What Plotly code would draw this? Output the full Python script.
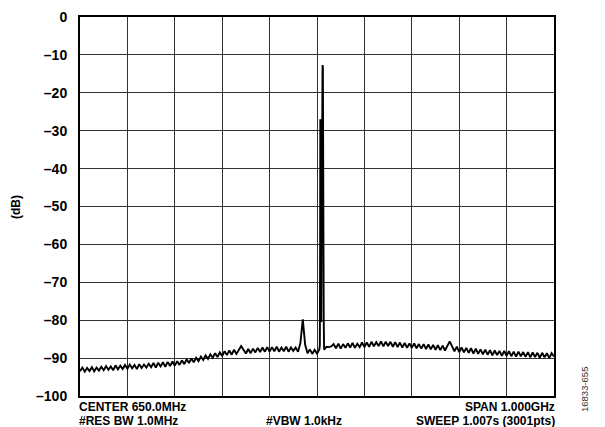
import plotly.graph_objects as go

# Spectrum analyzer sweep: 150 MHz .. 1150 MHz (center 650 MHz, span 1 GHz)
F_START_MHZ = 150
F_STEP_MHZ = 5

# Noise floor read at 5 MHz steps (dB)
floor_db = [
    -93.5, -92.5, -93.6, -92.6, -93.4, -92.4, -93.5, -92.5, -93.3, -92.3,
    -93.2, -92.1, -93.1, -92.2, -93.2, -91.9, -93.0, -92.0, -92.9, -91.8,
    -92.8, -91.7, -92.7, -91.8, -92.9, -91.6, -92.6, -91.7, -92.5, -91.5,
    -92.4, -91.3, -92.5, -91.2, -92.2, -91.1, -92.3, -91.0, -92.1, -90.9,
    -92.0, -90.8, -91.8, -90.6, -91.6, -90.3, -91.3, -90.1, -91.1, -89.9,
    -90.8, -89.6, -90.5, -89.3, -90.2, -89.0, -89.9, -88.7, -89.7, -88.5,
    -89.4, -88.2, -89.2, -88.0, -89.1, -87.8, -88.9, -87.7, -86.8, -87.8,
    -88.8, -87.6, -88.7, -87.5, -88.5, -87.3, -88.4, -87.2, -88.3, -87.1,
    -88.3, -87.1, -88.2, -87.0, -88.3, -87.2, -88.2, -87.0, -88.3, -87.2,
    -88.1, -87.2, -88.3, -86.0, -79.8, -86.5, -88.7, -87.7, -88.9, -87.8,
    -88.8, -87.7, -88.0, -87.8, -87.0, -87.1, -86.9, -86.3, -87.4, -86.2,
    -87.5, -86.3, -87.3, -86.1, -87.2, -86.0, -87.3, -86.2, -87.1, -85.9,
    -87.1, -85.9, -87.0, -85.7, -86.9, -85.8, -86.8, -85.6, -86.9, -85.7,
    -86.8, -85.7, -87.0, -85.8, -87.1, -85.9, -87.2, -86.0, -87.3, -86.1,
    -87.3, -86.1, -87.4, -86.3, -87.5, -86.3, -87.6, -86.4, -87.7, -86.5,
    -87.8, -86.6, -87.9, -86.7, -88.0, -86.8, -85.6, -86.9, -88.2, -87.0,
    -88.4, -87.2, -88.5, -87.3, -88.6, -87.4, -88.8, -87.5, -88.9, -87.7,
    -89.0, -87.8, -89.1, -87.9, -89.3, -88.0, -89.2, -88.1, -89.4, -88.1,
    -89.4, -88.2, -89.5, -88.3, -89.6, -88.3, -89.5, -88.4, -89.7, -88.4,
    -89.8, -88.5, -89.7, -88.6, -89.9, -88.6, -89.8, -88.7, -90.0, -88.7,
    -89.6,
]

# Carrier detail around 660 MHz
peak_freq_mhz = [656.0, 656.6, 657.0, 657.5, 658.2, 659.0, 659.8, 660.4,
                 661.0, 661.7, 662.4, 663.0, 663.6, 664.2, 664.8]
peak_db = [-86.5, -60.0, -27.0, -50.0, -79.0, -80.5, -55.0, -22.0,
           -13.6, -12.7, -13.2, -24.0, -58.0, -80.0, -85.0]

y_tick_vals = [0, -10, -20, -30, -40, -50, -60, -70, -80, -90, -100]
y_tick_text = ["0", "–10", "–20", "–30", "–40", "–50", "–60", "–70", "–80", "–90", "–100"]

floor_freq = [F_START_MHZ + i * F_STEP_MHZ for i in range(len(floor_db))]
pts = [(f, v) for f, v in zip(floor_freq, floor_db) if not (655 < f < 665)]
pts += list(zip(peak_freq_mhz, peak_db))
pts.sort()
freq = [p[0] for p in pts]
level = [p[1] for p in pts]

FONT = "Liberation Sans, Arial, Helvetica, sans-serif"

# The page body has an 8px margin; size the figure so it fills the window exactly.
W, H = 597, 419
L, T = 72, 9          # plot area starts at (80, 17) in the window
PW, PH = 474, 379     # plot area size

fig = go.Figure()
fig.add_trace(go.Scatter(x=freq, y=level, mode="lines",
                         line=dict(color="black", width=1.9),
                         hoverinfo="skip", showlegend=False))

fig.update_layout(
    width=W, height=H,
    margin=dict(l=L, r=W - L - PW, t=T, b=H - T - PH, autoexpand=False),
    paper_bgcolor="white", plot_bgcolor="white",
    font=dict(family=FONT, color="black"),
    xaxis=dict(range=[150, 1150], dtick=100, tick0=150, showticklabels=False,
               showgrid=True, gridcolor="#333333", gridwidth=1.3,
               showline=True, linecolor="black", linewidth=2, mirror=True,
               zeroline=False, ticks="", automargin=False),
    yaxis=dict(range=[-100, 0], tickvals=y_tick_vals, ticktext=y_tick_text,
               tickfont=dict(family=FONT, size=14, color="black", weight="bold"),
               showgrid=True, gridcolor="#333333", gridwidth=1.3,
               showline=True, linecolor="black", linewidth=2, mirror=True,
               zeroline=False, ticks="", ticklabelstandoff=8, automargin=False),
)

ann_font = dict(family=FONT, size=12, color="black", weight="bold")
annotations = [
    dict(text="CENTER 650.0MHz", x=0, xanchor="left", xshift=-3, yshift=-11),
    dict(text="#RES BW 1.0MHz", x=0, xanchor="left", xshift=-3, yshift=-25),
    dict(text="#VBW 1.0kHz", x=(304 - 80) / PW, xanchor="center", yshift=-25),
    dict(text="SPAN 1.000GHz", x=1, xanchor="right", xshift=3, yshift=-11),
    dict(text="SWEEP 1.007s (3001pts)", x=1, xanchor="right", xshift=3, yshift=-25),
]
for a in annotations:
    fig.add_annotation(xref="paper", yref="paper", y=0, yanchor="middle",
                       showarrow=False, font=ann_font, **a)

fig.add_annotation(text="(dB)", xref="paper", yref="paper",
                   x=(16 - 80) / PW, y=(396 - 207) / PH,
                   xanchor="center", yanchor="middle", textangle=-90,
                   showarrow=False, font=dict(family=FONT, size=12, color="black", weight="bold"))

fig.add_annotation(text="16833-655", xref="paper", yref="paper",
                   x=(584 - 80) / PW, y=(396 - 390) / PH,
                   xanchor="center", yanchor="middle", textangle=-90,
                   showarrow=False, font=dict(family=FONT, size=9.5, color="#333333"))

fig.write_html("out.html")
